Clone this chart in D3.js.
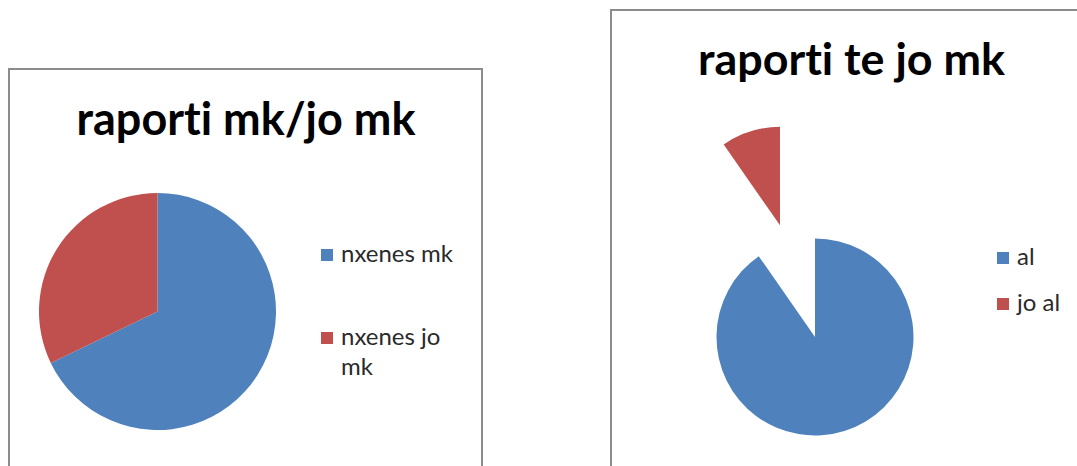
<!DOCTYPE html>
<html>
<head>
<meta charset="utf-8">
<script src="https://cdn.jsdelivr.net/npm/d3@7"></script>
<style>
  html, body { margin: 0; padding: 0; background: #fff; }
  svg { display: block; }
  text { font-variant-ligatures: none; font-feature-settings: "liga" 0, "clig" 0; }
</style>
</head>
<body>
<svg id="chart" width="1077" height="466"></svg>
<script>
// Left chart: students with / without mk
const leftTitle = "raporti mk/jo mk";
const leftCategories = ["nxenes mk", "nxenes jo mk"];
const leftValues = [19, 9];

// Right chart: among "jo mk"
const rightTitle = "raporti te jo mk";
const rightCategories = ["al", "jo al"];
const rightValues = [28, 3];

const palette = ["#4F81BD", "#C0504D"];

const svg = d3.select("#chart");
const titleFont = "Lato, 'Open Sans', 'DejaVu Sans', sans-serif";
const legendFont = "Lato, 'Open Sans', 'DejaVu Sans', sans-serif";

// Fit text to a target width by adjusting its font size
function fitText(sel, width) {
  const w = sel.node().getComputedTextLength();
  const fs = parseFloat(sel.attr("font-size"));
  sel.attr("font-size", fs * width / w);
  return fs * width / w;
}

// Legend font size chosen so that "nxenes mk" spans ~112px
const probe = svg.append("text")
  .attr("font-family", legendFont)
  .attr("font-size", 17)
  .text(leftCategories[0]);
const legendSize = fitText(probe, 112);
probe.remove();

function drawPanel(cfg) {
  const g = svg.append("g");

  // Chart frame
  g.append("rect")
    .attr("x", cfg.frame.x).attr("y", cfg.frame.y)
    .attr("width", cfg.frame.w).attr("height", cfg.frame.h)
    .attr("fill", "#fff")
    .attr("stroke", "#8c8c8c")
    .attr("stroke-width", 2);

  // Title
  const t = g.append("text")
    .attr("x", cfg.title.cx).attr("y", cfg.title.baseline)
    .attr("text-anchor", "middle")
    .attr("font-family", titleFont)
    .attr("font-weight", "bold")
    .attr("font-size", 40)
    .attr("fill", "#000")
    .text(cfg.title.text);
  fitText(t, cfg.title.width);

  // Pie
  const pie = d3.pie().sort(null).startAngle(0).endAngle(2 * Math.PI);
  const arcs = pie(cfg.values);
  const arc = d3.arc().innerRadius(0).outerRadius(cfg.radius);
  const color = d3.scaleOrdinal().domain(cfg.categories).range(palette);

  g.append("g")
    .attr("transform", `translate(${cfg.cx},${cfg.cy})`)
    .selectAll("path")
    .data(arcs)
    .join("path")
    .attr("d", arc)
    .attr("fill", (d, i) => color(cfg.categories[i]))
    .attr("transform", (d, i) => {
      const off = cfg.explode[i] || 0;
      const mid = (d.startAngle + d.endAngle) / 2;
      return `translate(${Math.sin(mid) * off},${-Math.cos(mid) * off})`;
    });

  // Legend
  const leg = g.append("g");
  cfg.legend.forEach((item, i) => {
    const cat = cfg.categories[i];
    leg.append("rect")
      .attr("x", cfg.legendX).attr("y", item.y - 13)
      .attr("width", 12).attr("height", 12)
      .attr("fill", color(cat));
    const txt = leg.append("text")
      .attr("font-family", legendFont)
      .attr("font-size", legendSize)
      .attr("fill", "#2a2a2a");
    item.lines.forEach((ln, j) => {
      txt.append("tspan")
        .attr("x", cfg.legendX + 20)
        .attr("y", item.y + j * 30)
        .text(ln);
    });
  });
}

drawPanel({
  frame: { x: 9, y: 69, w: 473, h: 420 },
  title: { text: leftTitle, cx: 246, baseline: 135, width: 339 },
  categories: leftCategories,
  values: leftValues,
  cx: 157.5, cy: 311.5, radius: 118.5,
  explode: [0, 0],
  legendX: 321,
  legend: [
    { y: 262, lines: ["nxenes mk"] },
    { y: 345, lines: ["nxenes jo", "mk"] }
  ]
});

drawPanel({
  frame: { x: 611, y: 10, w: 500, h: 480 },
  title: { text: rightTitle, cx: 851.5, baseline: 75, width: 307 },
  categories: rightCategories,
  values: rightValues,
  cx: 815, cy: 337, radius: 98.5,
  explode: [0, 117],
  legendX: 997,
  legend: [
    { y: 265, lines: ["al"] },
    { y: 311, lines: ["jo al"] }
  ]
});
</script>
</body>
</html>
